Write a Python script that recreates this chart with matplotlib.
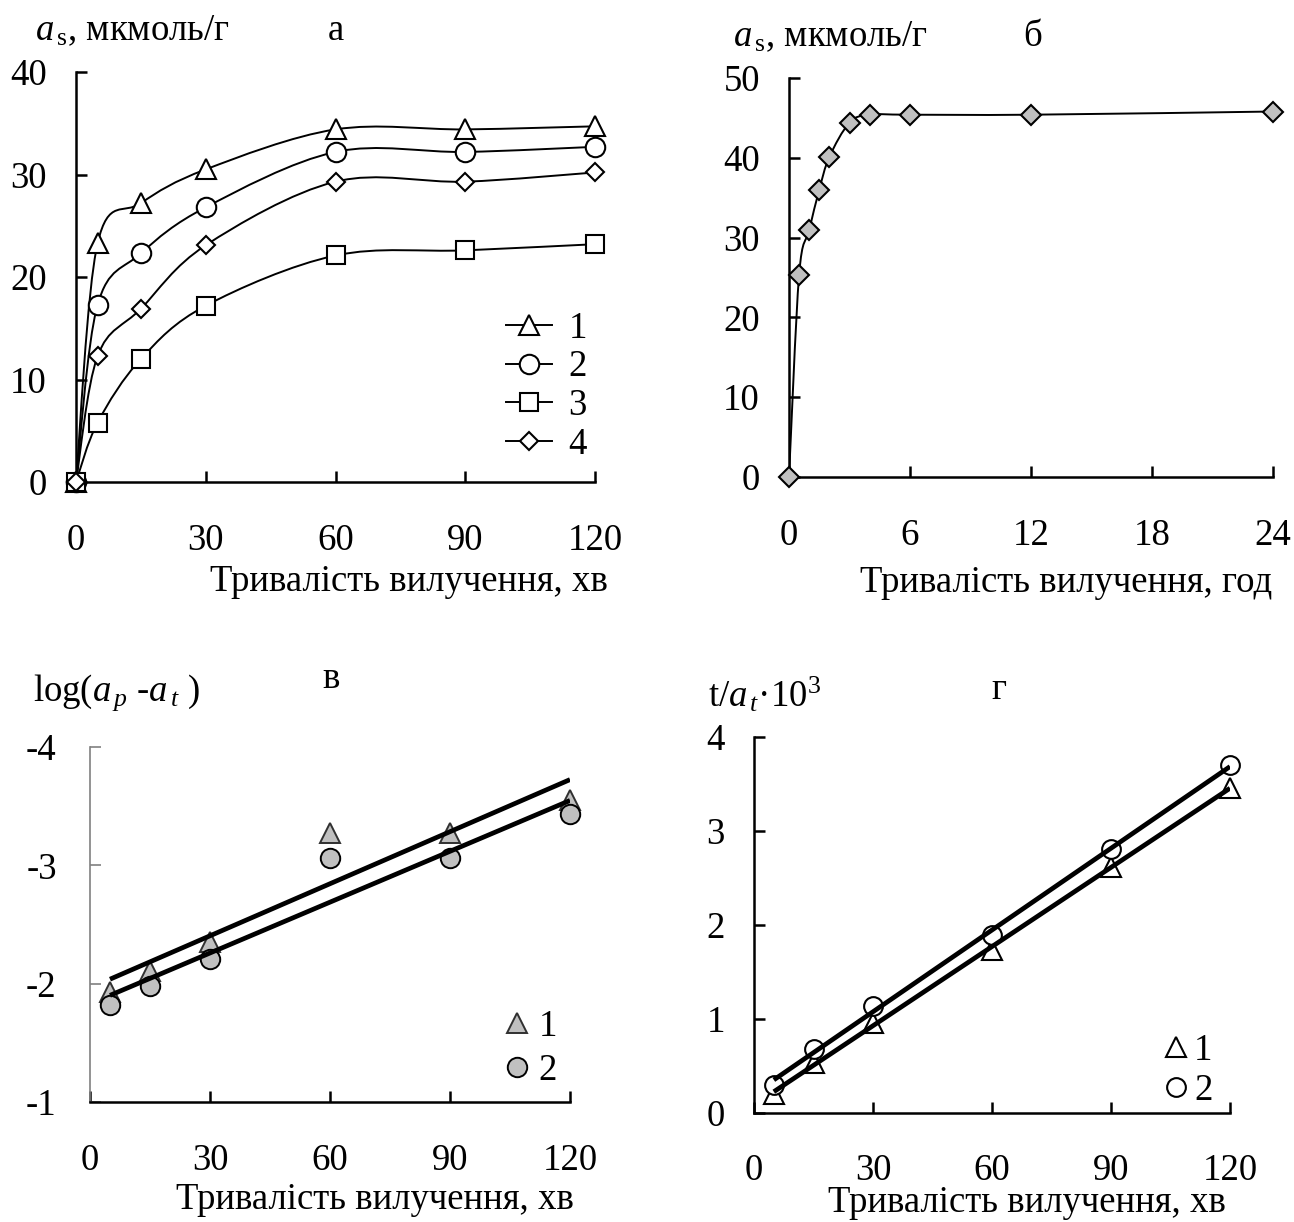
import matplotlib
matplotlib.use('Agg')
import matplotlib.pyplot as plt
import numpy as np
from matplotlib.path import Path
from matplotlib.patches import PathPatch
from matplotlib.lines import Line2D

plt.rcParams['font.family'] = ['Liberation Serif', 'DejaVu Serif']
plt.rcParams['mathtext.fontset'] = 'custom'
plt.rcParams['mathtext.rm'] = 'Liberation Serif'
plt.rcParams['mathtext.it'] = 'Liberation Serif:italic'
plt.rcParams['axes.unicode_minus'] = False

# ---------------- data ----------------
t_a = [0, 5, 15, 30, 60, 90, 120]
a_s1 = [0, 23.3, 27.2, 30.5, 34.4, 34.4, 34.7]
a_s2 = [0, 17.3, 22.3, 26.8, 32.2, 32.2, 32.7]
a_s3 = [0, 5.8, 12.0, 17.2, 22.1, 22.6, 23.2]
a_s4 = [0, 12.3, 16.9, 23.1, 29.3, 29.3, 30.2]
labels_a = ['1', '2', '3', '4']

t_b = [0, 0.5, 1, 1.5, 2, 3, 4, 6, 12, 24]
a_b = [0, 25.3, 30.9, 36.0, 40.1, 44.4, 45.4, 45.4, 45.4, 45.8]

t_c = [5, 15, 30, 60, 90, 120]
log_c1 = [-1.93, -2.11, -2.35, -3.27, -3.27, -3.55]
log_c2 = [-1.82, -1.98, -2.21, -3.06, -3.06, -3.43]

t_d = [5, 15, 30, 60, 90, 120]
ta_d1 = [0.20, 0.53, 0.96, 1.73, 2.62, 3.46]
ta_d2 = [0.30, 0.68, 1.14, 1.89, 2.81, 3.70]

xticks_min = [0, 30, 60, 90, 120]
xticks_h = [0, 6, 12, 18, 24]
yticks_a = [0, 10, 20, 30, 40]
yticks_b = [0, 10, 20, 30, 40, 50]
yticks_c = [-4, -3, -2, -1]
yticks_d = [0, 1, 2, 3, 4]

xlabel_min = 'Тривалість вилучення, хв'
xlabel_h = 'Тривалість вилучення, год'

# ---------------- figure ----------------
W, H = 1294, 1222
fig = plt.figure(figsize=(W / 100, H / 100), dpi=100)
FS = 26.5
GRAY = '#c0c0c0'


def add_ax(x0, x1, y0, y1):
    return fig.add_axes([x0 / W, 1 - y0 / H, (x1 - x0) / W, (y0 - y1) / H])


def fx(px):
    return px / W


def fy(py):
    return 1 - py / H


def style(ax, xpad, ypad, lw=1.8):
    for s in ['top', 'right']:
        ax.spines[s].set_visible(False)
    for s in ['left', 'bottom']:
        ax.spines[s].set_linewidth(lw)
    ax.tick_params(direction='in', length=8, width=lw, labelsize=FS)
    ax.tick_params(axis='x', pad=xpad)
    ax.tick_params(axis='y', pad=ypad)
    ax.set_facecolor('none')


def smooth_path(x, y):
    pts = np.column_stack([np.asarray(x, float), np.asarray(y, float)])
    n = len(pts)
    verts = [pts[0]]
    codes = [Path.MOVETO]
    for i in range(n - 1):
        p0 = pts[i - 1] if i > 0 else pts[i]
        p1 = pts[i]
        p2 = pts[i + 1]
        p3 = pts[i + 2] if i + 2 < n else pts[i + 1]
        verts += [p1 + (p2 - p0) / 6.0, p2 - (p3 - p1) / 6.0, p2]
        codes += [Path.CURVE4] * 3
    return Path(verts, codes)


# ---------- panel а ----------
ax = add_ax(76, 595, 482, 72)
ax.set_xlim(0, 120)
ax.set_ylim(0, 40)
ax.set_xticks(xticks_min)
ax.set_yticks(yticks_a)
style(ax, 30, 21)
series_a = [(a_s1, '^', 14.4), (a_s2, 'o', 14), (a_s3, 's', 13.5), (a_s4, 'D', 9.5)]
handles = []
for (vals, mk, ms), lab in zip(series_a, labels_a):
    ax.add_patch(PathPatch(smooth_path(t_a, vals), fill=False, lw=1.4,
                           edgecolor='black', zorder=2))
    ax.plot(t_a, vals, linestyle='none', marker=mk, ms=ms, mfc='white',
            mec='black', mew=1.5, zorder=3, clip_on=False)
    handles.append(Line2D([], [], color='black', lw=1.4, marker=mk, ms=ms,
                          mfc='white', mec='black', mew=1.5))
ax.legend(handles, labels_a, loc='upper left', bbox_to_anchor=(fx(506), fy(311)),
          bbox_transform=fig.transFigure, frameon=False, fontsize=FS,
          handlelength=1.25, handletextpad=0.45, labelspacing=0.12,
          borderpad=0, borderaxespad=0)
fig.text(fx(35), fy(40), r'$a_{\,\mathrm{s}}$, мкмоль/г', fontsize=FS,
         ha='left', va='baseline')
fig.text(fx(336), fy(40), 'а', fontsize=FS, ha='center', va='baseline')
fig.text(fx(409), fy(582), xlabel_min, fontsize=FS, ha='center', va='center')

# ---------- panel б ----------
ax = add_ax(789, 1273, 477, 78)
ax.set_xlim(0, 24)
ax.set_ylim(0, 50)
ax.set_xticks(xticks_h)
ax.set_yticks(yticks_b)
style(ax, 30, 21)
ax.add_patch(PathPatch(smooth_path(t_b, a_b), fill=False, lw=1.4,
                       edgecolor='black', zorder=2))
ax.plot(t_b, a_b, linestyle='none', marker='D', ms=10.2, mfc=GRAY,
        mec='black', mew=1.5, zorder=3, clip_on=False)
fig.text(fx(733), fy(46), r'$a_{\,\mathrm{s}}$, мкмоль/г', fontsize=FS,
         ha='left', va='baseline')
fig.text(fx(1033), fy(46), 'б', fontsize=FS, ha='center', va='baseline')
fig.text(fx(1066), fy(583), xlabel_h, fontsize=FS, ha='center', va='center')

# ---------- panel в ----------
ax = add_ax(90, 570, 1102, 747)
ax.set_xlim(0, 120)
ax.set_ylim(-1, -4)
ax.set_xticks(xticks_min)
ax.set_yticks(yticks_c)
style(ax, 30, 24)
ax.spines['left'].set_color('#808080')
ax.spines['left'].set_linewidth(1.2)
ax.tick_params(axis='y', color='#808080', width=1.2)
ax.plot(t_c, log_c1, linestyle='none', marker='^', ms=14.8, mfc=GRAY,
        mec='#303030', mew=1.4, zorder=3, clip_on=False)
ax.plot(t_c, log_c2, linestyle='none', marker='o', ms=14, mfc=GRAY,
        mec='black', mew=1.4, zorder=3, clip_on=False)
xc = np.array([min(t_c), max(t_c)], float)
for vals in (log_c1, log_c2):
    k, b0 = np.polyfit(t_c, vals, 1)
    ax.plot(xc, k * xc + b0, color='black', lw=3.4, zorder=4, solid_capstyle='butt')
hc = [Line2D([], [], linestyle='none', marker='^', ms=14.8, mfc=GRAY, mec='#303030', mew=1.4),
      Line2D([], [], linestyle='none', marker='o', ms=14, mfc=GRAY, mec='black', mew=1.4)]
ax.legend(hc, ['1', '2'], loc='upper left', bbox_to_anchor=(fx(502), fy(1009)),
          bbox_transform=fig.transFigure, frameon=False, fontsize=FS,
          handlelength=0.8, handletextpad=0.2, labelspacing=0.28,
          borderpad=0, borderaxespad=0, numpoints=1)
fig.text(fx(33), fy(701), r'log($a_{\,p}$ -$a_{\,t}$ )', fontsize=FS,
         ha='left', va='baseline')
fig.text(fx(331), fy(688), 'в', fontsize=FS, ha='center', va='baseline')
fig.text(fx(375), fy(1200), xlabel_min, fontsize=FS, ha='center', va='center')

# ---------- panel г ----------
ax = add_ax(754, 1230, 1113, 737)
ax.set_xlim(0, 120)
ax.set_ylim(0, 4)
ax.set_xticks(xticks_min)
ax.set_yticks(yticks_d)
style(ax, 29, 21)
ax.plot(t_d, ta_d1, linestyle='none', marker='^', ms=14.8, mfc='white',
        mec='black', mew=1.5, zorder=3, clip_on=False)
ax.plot(t_d, ta_d2, linestyle='none', marker='o', ms=13.5, mfc='white',
        mec='black', mew=1.5, zorder=3, clip_on=False)
xd = np.array([min(t_d), max(t_d)], float)
for vals in (ta_d1, ta_d2):
    k, b0 = np.polyfit(t_d, vals, 1)
    ax.plot(xd, k * xd + b0, color='black', lw=3.4, zorder=4, solid_capstyle='butt')
hd = [Line2D([], [], linestyle='none', marker='^', ms=14.8, mfc='white', mec='black', mew=1.5),
      Line2D([], [], linestyle='none', marker='o', ms=13.5, mfc='white', mec='black', mew=1.5)]
ax.legend(hd, ['1', '2'], loc='upper left', bbox_to_anchor=(fx(1161), fy(1033)),
          bbox_transform=fig.transFigure, frameon=False, fontsize=FS,
          handlelength=0.8, handletextpad=0.1, labelspacing=0.15,
          borderpad=0, borderaxespad=0, numpoints=1)
fig.text(fx(708), fy(707), r't/$a_{\,t}$·10$^{3}$', fontsize=FS,
         ha='left', va='baseline')
fig.text(fx(999), fy(699), 'г', fontsize=FS, ha='center', va='baseline')
fig.text(fx(1027), fy(1203), xlabel_min, fontsize=FS, ha='center', va='center')

fig.savefig('out.png', dpi=100)
